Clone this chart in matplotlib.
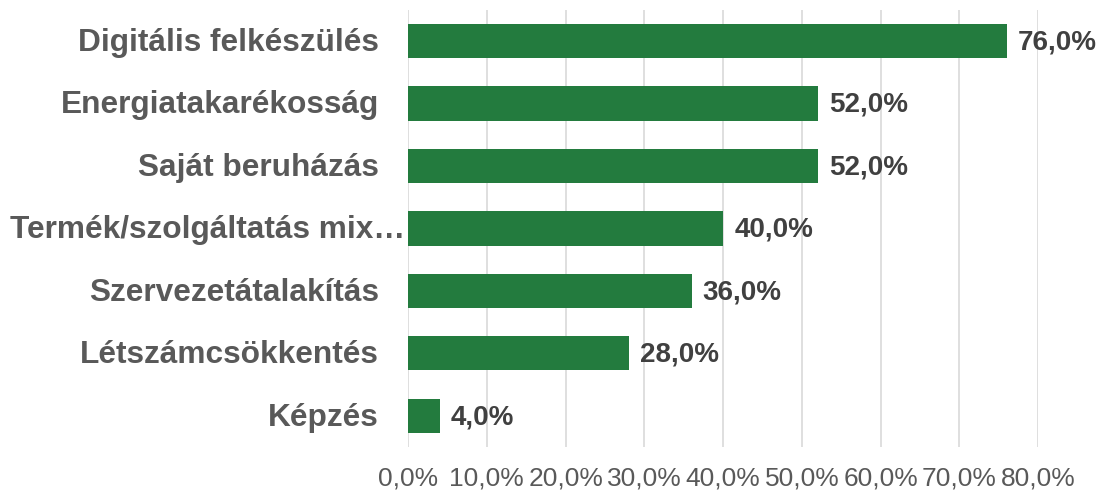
import numpy as np
import matplotlib.pyplot as plt
import matplotlib.transforms as mtransforms
from matplotlib.ticker import FuncFormatter

plt.rcParams['font.family'] = ['Liberation Sans', 'DejaVu Sans']

# ===== Adatok =====
categories = ['Digitális felkészülés', 'Energiatakarékosság', 'Saját beruházás',
              'Termék/szolgáltatás mix…', 'Szervezetátalakítás',
              'Létszámcsökkentés', 'Képzés']
values = [76.0, 52.0, 52.0, 40.0, 36.0, 28.0, 4.0]
x_ticks = [0, 10, 20, 30, 40, 50, 60, 70, 80]

bar_color = '#237B3E'
label_color = '#595959'
value_color = '#404040'

fig = plt.figure(figsize=(11, 4.92), dpi=100)
ax = fig.add_axes([0.371, 0.0915, 0.5727, 0.8887])

y = np.arange(len(categories))
ax.barh(y, values, height=0.55, color=bar_color, zorder=3)
ax.set_ylim(len(categories) - 0.5, -0.5)
ax.set_xlim(0, 80)
ax.set_xticks(x_ticks)
ax.xaxis.set_major_formatter(FuncFormatter(lambda v, p: f'{v:.1f}%'.replace('.', ',')))
ax.tick_params(axis='x', length=0, pad=14, labelsize=19, labelcolor=label_color)
ax.set_yticks([])
ax.grid(axis='x', color='#D9D9D9', linewidth=1.2, zorder=0)
for s in ax.spines.values():
    s.set_visible(False)

# kategória címkék
trans = mtransforms.blended_transform_factory(ax.transAxes, ax.transData)
for i, cat in enumerate(categories):
    off = -3 if cat.endswith('…') else -29
    t = mtransforms.offset_copy(trans, fig=fig, x=off, y=-2, units='dots')
    ax.text(0, i, cat, transform=t, ha='right', va='center',
            fontsize=22.8, fontweight='bold', color=label_color)

# érték címkék
for i, v in enumerate(values):
    ax.annotate(f'{v:.1f}%'.replace('.', ','), (v, i), xytext=(8, -1),
                textcoords='offset points', ha='left', va='center',
                fontsize=20, fontweight='bold', color=value_color)

fig.savefig('out.png', dpi=100)
